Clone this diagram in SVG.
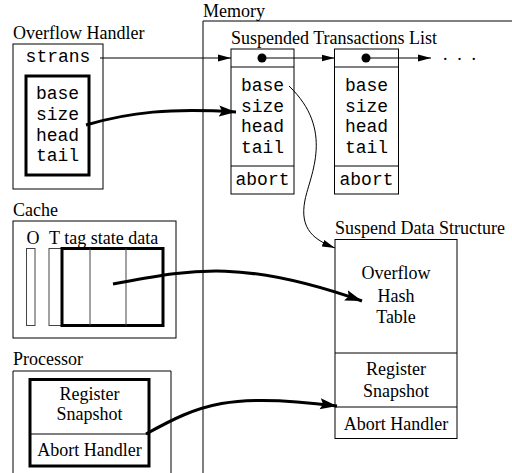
<svg xmlns="http://www.w3.org/2000/svg" width="512" height="473" viewBox="0 0 512 473">
<style>
.lbl{font-family:"Liberation Serif","Times New Roman",serif;font-size:18px;fill:#000}
.ctr{text-anchor:middle}
.mono{font-family:"Liberation Mono","Courier New",monospace;font-size:18px;fill:#000;text-anchor:middle}
.box{fill:none;stroke:#000;stroke-width:1}
.thick{fill:none;stroke:#000;stroke-width:3}
.gray{fill:none;stroke:#444;stroke-width:1}
.thin{fill:none;stroke:#000;stroke-width:1}
.bold{fill:none;stroke:#000;stroke-width:3}
</style>
<defs>
<marker id="ah" markerUnits="userSpaceOnUse" markerWidth="14" markerHeight="8" refX="13" refY="4" orient="auto">
<path d="M0,0.5 L13,4 L0,7.5 z" fill="#000"/>
</marker>
<marker id="ahb" markerUnits="userSpaceOnUse" markerWidth="18" markerHeight="12" refX="17" refY="6" orient="auto">
<path d="M0,0.5 L17,6 L0,11.5 L3,6 z" fill="#000"/>
</marker>
</defs>
<rect width="512" height="473" fill="#fff"/>

<g id="memory">
<text class="lbl" x="203" y="17">Memory</text>
<path class="box" d="M203,473 V21 H512"/>
</g>

<g id="overflow-handler">
<text class="lbl" x="13" y="39">Overflow Handler</text>
<rect class="box" x="13" y="44" width="90" height="145"/>
<text class="mono" x="58" y="62">strans</text>
<rect class="thick" x="26" y="76" width="63" height="99"/>
<text class="mono" x="57.5" y="99">base</text>
<text class="mono" x="57.5" y="120">size</text>
<text class="mono" x="57.5" y="140.5">head</text>
<text class="mono" x="57.5" y="161">tail</text>
</g>

<g id="cache">
<text class="lbl" x="13" y="216">Cache</text>
<rect class="box" x="13" y="221" width="163" height="117"/>
<text class="lbl" x="26.5" y="244">O</text>
<text class="lbl" x="49" y="244">T tag state data</text>
<rect class="gray" x="26.5" y="248.5" width="8.5" height="77"/>
<rect class="gray" x="49" y="248.5" width="13" height="77"/>
<rect class="thick" x="62" y="248.5" width="101" height="77"/>
<line class="gray" x1="90" y1="248.5" x2="90" y2="325.5"/>
<line class="gray" x1="126" y1="248.5" x2="126" y2="325.5"/>
</g>

<g id="processor">
<text class="lbl" x="13" y="365">Processor</text>
<path class="box" d="M13,480 V371 H171 V480"/>
<rect class="thick" x="30" y="379.5" width="119" height="86.5"/>
<line class="box" x1="30" y1="434" x2="149" y2="434"/>
<text class="lbl ctr" x="89.5" y="400">Register</text>
<text class="lbl ctr" x="89.5" y="420">Snapshot</text>
<text class="lbl ctr" x="89.5" y="456">Abort Handler</text>
</g>

<g id="suspended-list">
<text class="lbl" x="231" y="44">Suspended Transactions List</text>
</g>

<g id="node1">
<rect class="box" x="231" y="49" width="63" height="145"/>
<line class="box" x1="231" y1="67" x2="294" y2="67"/>
<line class="box" x1="231" y1="166" x2="294" y2="166"/>
<circle cx="262" cy="58" r="4.5" fill="#000"/>
<text class="mono" x="262.5" y="90.5">base</text>
<text class="mono" x="262.5" y="111.5">size</text>
<text class="mono" x="262.5" y="132">head</text>
<text class="mono" x="262.5" y="152.5">tail</text>
<text class="mono" x="262.5" y="185">abort</text>
</g>

<g id="node2">
<rect class="box" x="334.5" y="49" width="64" height="145"/>
<line class="box" x1="334.5" y1="67" x2="398.5" y2="67"/>
<line class="box" x1="334.5" y1="166" x2="398.5" y2="166"/>
<circle cx="366" cy="58" r="4.5" fill="#000"/>
<text class="mono" x="366.5" y="90.5">base</text>
<text class="mono" x="366.5" y="111.5">size</text>
<text class="mono" x="366.5" y="132">head</text>
<text class="mono" x="366.5" y="152.5">tail</text>
<text class="mono" x="366.5" y="185">abort</text>
<text class="lbl" x="443" y="60" style="letter-spacing:9.8px">...</text>
</g>

<g id="suspend-data-structure">
<text class="lbl" x="335" y="234">Suspend Data Structure</text>
<rect class="box" x="335" y="239.5" width="122" height="199"/>
<line class="box" x1="335" y1="353" x2="457" y2="353"/>
<line class="box" x1="335" y1="407" x2="457" y2="407"/>
<text class="lbl ctr" x="396" y="279">Overflow</text>
<text class="lbl ctr" x="396" y="301.5">Hash</text>
<text class="lbl ctr" x="396" y="323">Table</text>
<text class="lbl ctr" x="396" y="375">Register</text>
<text class="lbl ctr" x="396" y="396.5">Snapshot</text>
<text class="lbl ctr" x="396" y="429.5">Abort Handler</text>
</g>

<g id="connectors">
<line class="thin" x1="100" y1="58" x2="231" y2="58" marker-end="url(#ah)"/>
<line class="thin" x1="262" y1="58" x2="334.5" y2="58" marker-end="url(#ah)"/>
<line class="thin" x1="366" y1="58" x2="431" y2="58" marker-end="url(#ah)"/>
<path class="thin" d="M289,86 C335,130 310,175 305,200 C299,230 315,240 335,248" marker-end="url(#ah)"/>
<path class="bold" d="M86,125 C130,112 170,108 236,112" marker-end="url(#ahb)"/>
<path class="bold" d="M113,284 C190,270 240,258 362,301" marker-end="url(#ahb)"/>
<path class="bold" d="M146,434 C200,404 230,392 337,406" marker-end="url(#ahb)"/>
</g>
</svg>
